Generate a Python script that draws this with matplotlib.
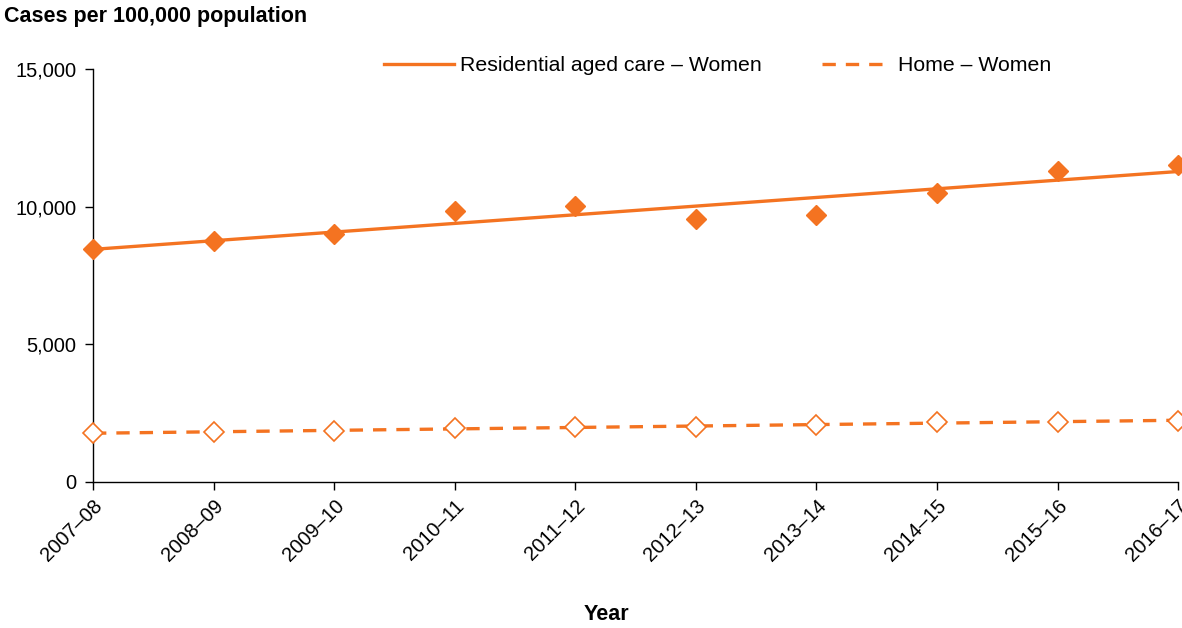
import numpy as np
import matplotlib
matplotlib.use("Agg")
import matplotlib.pyplot as plt
from matplotlib.ticker import FuncFormatter

plt.rcParams['font.family'] = ['Liberation Sans', 'DejaVu Sans']

years = ['2007–08', '2008–09', '2009–10', '2010–11', '2011–12',
         '2012–13', '2013–14', '2014–15', '2015–16', '2016–17']
residential_women = [8460, 8750, 9010, 9840, 10030, 9550, 9700, 10500, 11300, 11510]
home_women = [1780, 1800, 1850, 1970, 2010, 2010, 2060, 2170, 2190, 2230]

orange = '#F47321'

fig = plt.figure(figsize=(11.82, 6.28), dpi=100)
ax = fig.add_axes([0.0787, 0.2325, 0.918, 0.6575])

x = np.arange(len(years))

# linear trend lines through each series
fit_res = np.polyfit(x, residential_women, 1)
fit_home = np.polyfit(x, home_women, 1)

ax.plot(x, np.polyval(fit_res, x), color=orange, lw=2.4,
        label='Residential aged care – Women', zorder=2)
ax.plot(x, np.polyval(fit_home, x), color=orange, lw=2.4, ls=(0, (4, 3)),
        label='Home – Women', zorder=2)

ax.plot(x, residential_women, ls='none', marker='D', ms=10,
        color=orange, zorder=3, clip_on=False)
ax.plot(x, home_women, ls='none', marker='D', ms=10, mfc='white',
        mec=orange, mew=1.2, color=orange, zorder=3, clip_on=False)

ax.set_xlim(0, 9)
ax.set_ylim(0, 15000)
ax.set_yticks([0, 5000, 10000, 15000])
ax.yaxis.set_major_formatter(FuncFormatter(lambda v, p: f'{int(v):,}'))
ax.set_xticks(x)
ax.set_xticklabels(years, rotation=45, ha='right', rotation_mode='anchor')

for s in ['top', 'right']:
    ax.spines[s].set_visible(False)
for s in ['left', 'bottom']:
    ax.spines[s].set_linewidth(1.0)
ax.tick_params(axis='both', direction='out', length=6, width=1.0,
               labelsize=14.5, colors='black')
ax.tick_params(axis='y', pad=6)
ax.tick_params(axis='x', pad=4)

ax.legend(loc='center', bbox_to_anchor=(0.5756, 1.008), ncol=2, frameon=False,
          fontsize=15.3, handlelength=3.3, columnspacing=2.8, handletextpad=0.3)

fig.text(0.003, 0.99, 'Cases per 100,000 population', fontsize=15.5,
         fontweight='bold', va='top', ha='left')
fig.text(0.513, 0.022, 'Year', fontsize=15.5, fontweight='bold',
         ha='center', va='center')

fig.savefig('out.png', dpi=100)
